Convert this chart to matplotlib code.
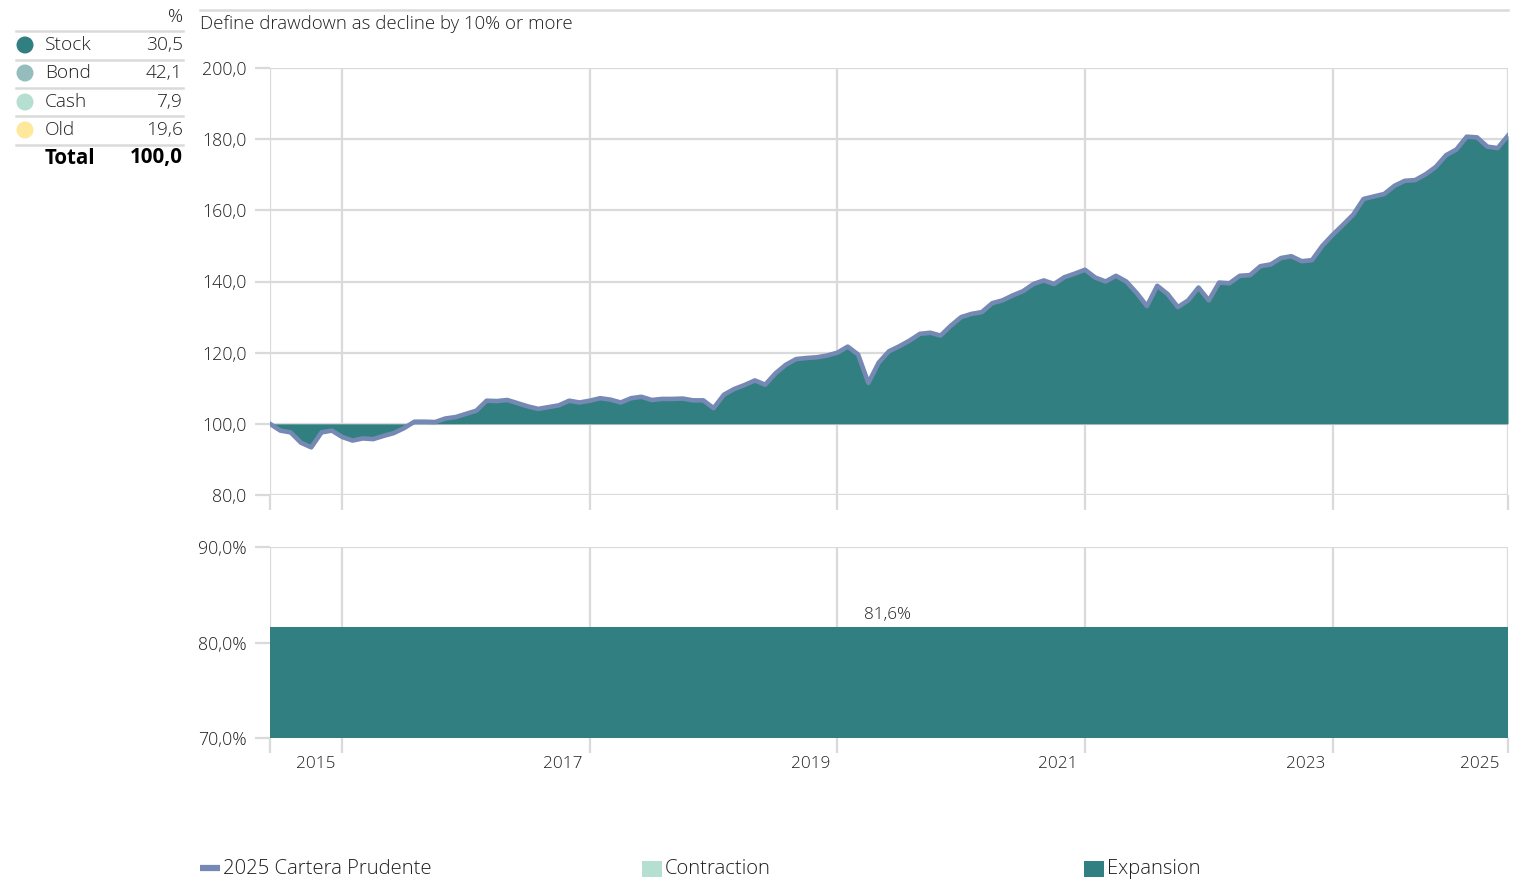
import numpy as np
import matplotlib
matplotlib.use("Agg")
import matplotlib.pyplot as plt
from matplotlib.patches import Rectangle, Circle

plt.rcParams['font.family'] = ['Open Sans', 'DejaVu Sans']
plt.rcParams['font.weight'] = 'light'

# ---------------- data ----------------
portfolio_name = "2025 Cartera Prudente"
portfolio_values = [
    100.0, 98.1, 97.6, 94.7, 93.4, 97.6, 98.1, 96.3, 95.3, 95.9,
    95.7, 96.6, 97.4, 98.8, 100.6, 100.6, 100.5, 101.5, 101.9, 102.8,
    103.7, 106.5, 106.4, 106.7, 105.8, 104.9, 104.2, 104.7, 105.2, 106.5,
    106.0, 106.5, 107.2, 106.8, 106.0, 107.2, 107.6, 106.7, 107.0, 107.0,
    107.1, 106.6, 106.6, 104.4, 108.2, 109.8, 110.9, 112.2, 111.0, 114.2,
    116.6, 118.2, 118.5, 118.7, 119.2, 120.0, 121.7, 119.5, 111.5, 117.2,
    120.4, 121.8, 123.4, 125.3, 125.6, 124.8, 127.6, 130.0, 130.9, 131.4,
    133.9, 134.7, 136.1, 137.3, 139.3, 140.3, 139.3, 141.2, 142.2, 143.3,
    141.1, 140.0, 141.6, 140.0, 136.8, 133.1, 138.8, 136.5, 132.8, 134.7,
    138.3, 134.7, 139.7, 139.5, 141.6, 141.8, 144.3, 144.8, 146.6, 147.1,
    145.7, 146.0, 150.0, 153.1, 155.9, 158.8, 163.2, 163.9, 164.6, 166.9,
    168.3, 168.5, 170.1, 172.2, 175.5, 177.1, 180.7, 180.5, 177.9, 177.5,
    181.0,
]
year_labels = ["2015", "2017", "2019", "2021", "2023", "2025"]
year_grid_months = [7, 31, 55, 79, 103]      # month index of each year gridline

expansion_share = 81.6                        # % of time in expansion
regime_names = ["Contraction", "Expansion"]

alloc_names = ["Stock", "Bond", "Cash", "Old"]
alloc_values = [30.5, 42.1, 7.9, 19.6]
alloc_total = 100.0

note_text = "Define drawdown as decline by 10% or more"

# ---------------- style ----------------
TEAL = "#317F81"
LINE = "#7589B4"
GRID = "#DADADA"
TXT = "#202020"
alloc_colors = ["#317F81", "#96BDBE", "#B5DFD0", "#FDE89C"]
regime_colors = ["#B5DFD0", TEAL]

W, H = 1521, 883
fig = plt.figure(figsize=(W / 100, H / 100), dpi=100)

def fx(px):
    return px / W

def fy(py):
    return 1 - py / H

def fmt_comma(v, dec=1, suffix=""):
    return f"{v:.{dec}f}".replace(".", ",") + suffix

n = len(portfolio_values)
x = np.arange(n)
vals = np.array(portfolio_values)

# ---------------- top chart ----------------
ax1 = fig.add_axes([fx(270), fy(495), fx(1238), 427 / H])
ax1.set_xlim(0, n - 1)
ax1.set_ylim(80, 200)
ax1.fill_between(x, 100, vals, color=TEAL, lw=0, zorder=2)
ax1.plot(x, vals, color=LINE, lw=3.3, solid_joinstyle="round", zorder=3)
ax1.set_yticks(np.arange(80, 201, 20))
ax1.set_yticklabels([fmt_comma(v) for v in np.arange(80, 201, 20)])

# ---------------- bottom chart ----------------
ax2 = fig.add_axes([fx(270), fy(738), fx(1238), 191 / H])
ax2.set_xlim(0, n - 1)
ax2.set_ylim(70, 90)
ax2.fill_between([0, n - 1], 70, expansion_share, color=TEAL, lw=0, zorder=2)
ax2.text((n - 1) / 2 - 0.1, expansion_share + 0.45, fmt_comma(expansion_share, 1, "%"),
         ha="center", va="bottom", fontsize=12.3, color=TXT)
ax2.set_yticks([70, 80, 90])
ax2.set_yticklabels([fmt_comma(v, 1, "%") for v in [70, 80, 90]])

gridx = [0] + year_grid_months + [n - 1]
for ax in (ax1, ax2):
    for s in ax.spines.values():
        s.set_visible(False)
    ax.set_axisbelow(True)
    ax.set_xticks(gridx)
    ax.set_xticklabels([])
    ax.grid(True, color=GRID, lw=1.6)
    ax.tick_params(axis="x", length=11, width=1.6, color=GRID, direction="out")
    ax.tick_params(axis="y", length=11, width=1.6, color=GRID, pad=6,
                   labelsize=12.8, labelcolor=TXT)

# year labels under bottom chart
label_pos = [g - 2.6 for g in year_grid_months] + [n - 1 - 2.7]
for lab, pos in zip(year_labels, label_pos):
    ax2.text(pos, -0.135, lab, transform=ax2.get_xaxis_transform(),
             ha="center", va="center", fontsize=12.3, color=TXT)

# ---------------- overlay (pixel coordinates) ----------------
ov = fig.add_axes([0, 0, 1, 1], zorder=-1)
ov.set_xlim(0, W)
ov.set_ylim(H, 0)
ov.axis("off")

# top rule + note
ov.plot([200, 1508], [10, 10], color=GRID, lw=1.8)
ov.text(200, 24, note_text, ha="left", va="center", fontsize=13.4, color=TXT)

# allocation table
ov.text(183, 17, "%", ha="right", va="center", fontsize=13.5, color=TXT)
row_y = [45, 73, 102, 130]
for yy in [31, 60, 88, 116, 145]:
    ov.plot([16, 183], [yy, yy], color=GRID, lw=1.8)
for name, v, c, yy in zip(alloc_names, alloc_values, alloc_colors, row_y):
    ov.add_patch(Circle((25, yy), 8.5, color=c, lw=0))
    ov.text(45, yy, name, ha="left", va="center", fontsize=13.8, color=TXT)
    ov.text(183, yy, fmt_comma(v), ha="right", va="center", fontsize=13.8, color=TXT)
ov.text(45, 158, "Total", ha="left", va="center", fontsize=14.8, color="black",
        fontweight="bold")
ov.text(183, 158, fmt_comma(alloc_total), ha="right", va="center", fontsize=14.8,
        color="black", fontweight="bold")

# bottom legend
ov.plot([200, 220], [868, 868], color=LINE, lw=4.5, solid_capstyle="butt")
ov.text(223, 869, portfolio_name, ha="left", va="center", fontsize=14.6, color=TXT)
for (sx, name, c) in zip([642, 1084], regime_names, regime_colors):
    ov.add_patch(Rectangle((sx, 861), 20, 16, color=c, lw=0))
    ov.text(sx + 23, 869, name, ha="left", va="center", fontsize=14.6, color=TXT)

fig.savefig("out.png", dpi=100)
